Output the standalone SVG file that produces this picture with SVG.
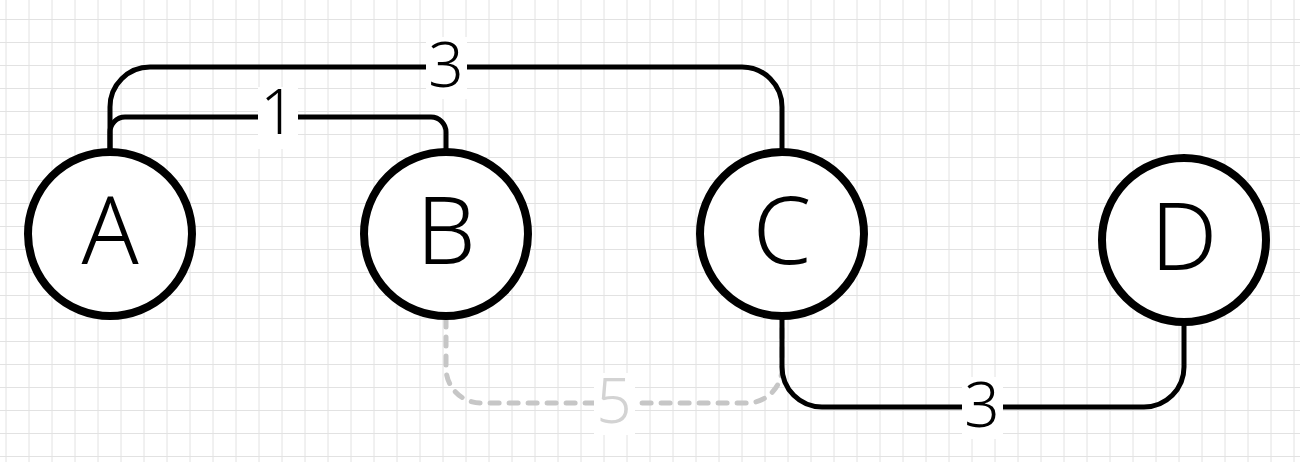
<svg xmlns="http://www.w3.org/2000/svg" width="1300" height="462" viewBox="0 0 1300 462">
<style>
.edge{fill:none;stroke:#000;stroke-width:5;stroke-linecap:round;stroke-linejoin:round}
.dashed{fill:none;stroke:#c6c6c6;stroke-width:5;stroke-linecap:round;stroke-dasharray:9 10}
.node circle{fill:#fff;stroke:#000;stroke-width:8}
.node text{font-family:"Noto Sans Light","Noto Sans","Open Sans","DejaVu Sans",sans-serif;font-weight:300;font-size:94px;fill:#000;text-anchor:middle}
.lbl{font-family:"Noto Sans Light","Noto Sans","Open Sans","DejaVu Sans",sans-serif;font-weight:300;font-size:62px;fill:#000;text-anchor:middle}
.lblbg{fill:#fff}
</style>
<defs>
<pattern id="grid" width="23" height="23" patternUnits="userSpaceOnUse">
<path d="M6 0V23M0 19.5H23" stroke="#e2e2e2" stroke-width="1" fill="none"/>
</pattern>
</defs>
<rect width="1300" height="462" fill="#fff"/>
<rect width="1300" height="462" fill="url(#grid)"/>
<g id="connectors">
<path class="edge" d="M110 234V107A40 40 0 0 1 150 67H742A40 40 0 0 1 782 107V234"/>
<path class="edge" d="M110 234V132A15 15 0 0 1 125 117H431A15 15 0 0 1 446 132V234"/>
<path class="dashed" d="M446 318V368A35 35 0 0 0 481 403H747A35 35 0 0 0 782 368V318"/>
<path class="edge" d="M782 234V367A40 40 0 0 0 822 407H1144A40 40 0 0 0 1184 367V240"/>
<rect class="lblbg" x="426" y="37" width="41" height="62"/>
<text class="lbl" x="446" y="87">3</text>
<rect class="lblbg" x="258" y="87" width="40" height="62"/>
<text class="lbl" x="278" y="134">1</text>
<rect class="lblbg" x="594" y="373" width="41" height="62"/>
<text class="lbl" x="614" y="423" style="fill:#d3d3d3">5</text>
<rect class="lblbg" x="962" y="377" width="41" height="62"/>
<text class="lbl" x="982" y="427">3</text>
</g>
<g id="node-A" class="node"><circle cx="110" cy="234" r="82"/><text x="110" y="264">A</text></g>
<g id="node-B" class="node"><circle cx="446" cy="234" r="82"/><text x="446" y="264">B</text></g>
<g id="node-C" class="node"><circle cx="782" cy="234" r="82"/><text x="782" y="264">C</text></g>
<g id="node-D" class="node"><circle cx="1184" cy="240" r="82"/><text x="1184" y="270">D</text></g>
</svg>
